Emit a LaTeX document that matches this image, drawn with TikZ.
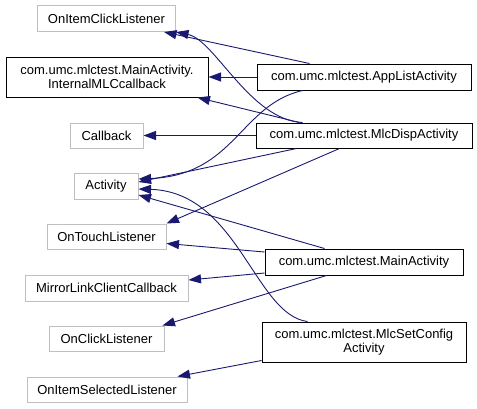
\documentclass[tikz,border=0pt]{standalone}
\usepackage{fontspec}
\setmainfont{Liberation Sans}
\usetikzlibrary{arrows.meta,calc}
\definecolor{edgec}{HTML}{191970}
\definecolor{grayb}{HTML}{BFBFBF}
\begin{document}
\begin{tikzpicture}[x=1pt,y=-1pt,
  base/.style={draw=grayb,line width=1pt,fill=white,inner sep=0pt,align=center,font=\fontsize{13}{14}\selectfont},
  cls/.style={draw=black,line width=1pt,fill=white,inner sep=0pt,align=center,font=\fontsize{13}{14}\selectfont},
  inh/.style={draw=edgec,line width=0.9pt,-{Triangle[length=12.5pt,width=9pt]}}]
\useasboundingbox (0,0) rectangle (477,408);
\node[base,minimum width=138pt,minimum height=26pt] (oicl) at (106.5,18.5) {OnItemClickListener};
\node[cls,minimum width=202pt,minimum height=40pt] (imlc) at (107,77) {com.umc.mlctest.MainActivity.\\InternalMLCcallback};
\node[base,minimum width=73pt,minimum height=25pt] (cb) at (106.5,135.5) {Callback};
\node[base,minimum width=64pt,minimum height=26pt] (act) at (106,186) {Activity};
\node[base,minimum width=119pt,minimum height=25pt] (otl) at (106.5,236.5) {OnTouchListener};
\node[base,minimum width=163pt,minimum height=26pt] (mlcc) at (106.5,288) {MirrorLinkClientCallback};
\node[base,minimum width=115pt,minimum height=25pt] (ocl) at (106.5,338.5) {OnClickListener};
\node[base,minimum width=160pt,minimum height=25pt] (oisl) at (107,389.5) {OnItemSelectedListener};
\node[cls,minimum width=214pt,minimum height=26pt] (app) at (364,77) {com.umc.mlctest.AppListActivity};
\node[cls,minimum width=216pt,minimum height=25pt] (disp) at (364,135.5) {com.umc.mlctest.MlcDispActivity};
\node[cls,minimum width=198pt,minimum height=26pt] (main) at (364,262) {com.umc.mlctest.MainActivity};
\node[cls,minimum width=204pt,minimum height=40pt] (cfg) at (364,342) {com.umc.mlctest.MlcSetConfig\\Activity};
% edges
\draw[inh] ($(app.north west)+(53,0)$) -- ($(oicl.south east)+(-12,0)$);
\draw[inh] ($(disp.north west)+(47,0)$) .. controls (250,120) and (215,40) .. ($(oicl.south east)+(0,0)$);
\draw[inh] (app.west) -- (imlc.east);
\draw[inh] ($(disp.north west)+(44,0)$) -- ($(imlc.south east)+(-11,0)$);
\draw[inh] (disp.west) -- (cb.east);
\draw[inh] ($(app.south west)+(46,0)$) .. controls (240,105) and (235,175) .. ($(act.east)+(0,-7)$);
\draw[inh] ($(disp.south west)+(41,0)$) -- ($(act.east)+(0,-4)$);
\draw[inh] ($(disp.south west)+(84,0)$) -- (otl.north east);
\draw[inh] ($(main.north west)+(60,0)$) -- ($(act.east)+(0,9)$);
\draw[inh] ($(cfg.north west)+(46,0)$) .. controls (255,315) and (238,192) .. ($(act.east)+(0,3)$);
\draw[inh] ($(main.west)+(0,-10)$) -- ($(otl.east)+(0,7)$);
\draw[inh] ($(main.west)+(0,11)$) -- ($(mlcc.east)+(0,-8)$);
\draw[inh] ($(main.south west)+(62,0)$) -- ($(ocl.north east)+(-2,0)$);
\draw[inh] ($(cfg.south west)+(0,-2)$) -- ($(oisl.north east)+(-10,0)$);
\end{tikzpicture}
\end{document}
